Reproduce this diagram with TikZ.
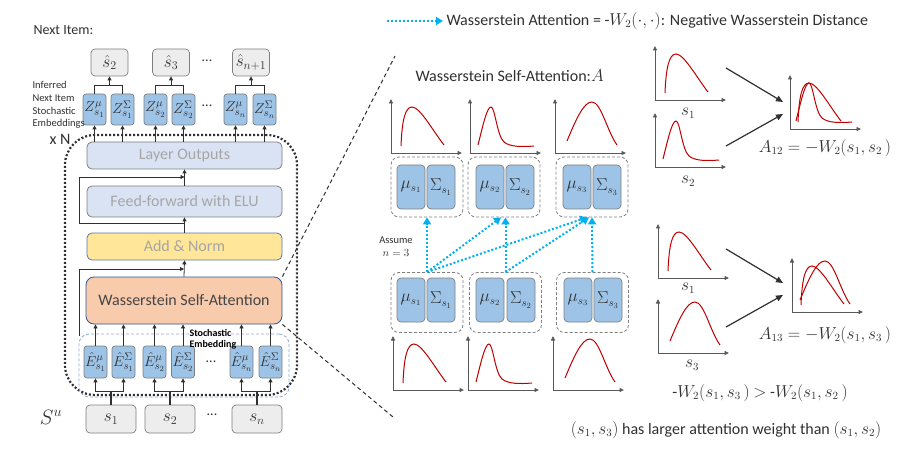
\documentclass[tikz,border=0pt]{standalone}
\usepackage{fontspec}
\setmainfont{Carlito}
\usetikzlibrary{arrows.meta}
\definecolor{txt}{HTML}{303030}
\definecolor{gtxt}{HTML}{A6A6A6}
\definecolor{lbox}{HTML}{DAE3F3}
\definecolor{ybox}{HTML}{FFE699}
\definecolor{obox}{HTML}{F8CBAD}
\definecolor{bbox}{HTML}{9DC3E6}
\definecolor{gbox}{HTML}{EDEDED}
\definecolor{bord}{HTML}{7F7F7F}
\definecolor{blueb}{HTML}{2F5597}
\definecolor{cyanA}{HTML}{00B0F0}
\definecolor{redc}{HTML}{C00000}
\definecolor{axc}{HTML}{595959}
\definecolor{sedash}{HTML}{8FAADC}
\tikzset{
 axl/.style={draw=axc,line width=0.9pt,{Triangle[length=4.5pt,width=4pt]}-{Triangle[length=4.5pt,width=4pt]}},
 curv/.style={draw=redc,line width=1pt},
 axpic/.pic={\draw[axl] (0,-54) -- (0,0) -- (71,0);},
 cA/.pic={\draw[curv] (10,-7) .. controls (11,-32) and (14,-46) .. (21,-46) .. controls (29,-46) and (42,-22) .. (53,-8);},
 cB/.pic={\draw[curv] (8,-8) .. controls (13,-28) and (17,-46) .. (21,-46) .. controls (25,-46) and (27,-17) .. (34,-11) .. controls (40,-6) and (52,-6) .. (64,-7);},
 cC/.pic={\draw[curv] (12,-12) .. controls (22,-36) and (29,-51) .. (37,-51) .. controls (46,-51) and (52,-22) .. (62,-8);},
}
\begin{document}
\begin{tikzpicture}[x=1pt,y=-1pt,
  every node/.style={text=txt},
  conn/.style={draw=txt,line width=0.8pt,-{Triangle[length=4pt,width=4pt]}},
  plain/.style={draw=txt,line width=0.8pt},
  layer/.style={draw=bord,line width=0.8pt,rounded corners=5pt,minimum width=195pt,inner sep=0pt,font=\fontsize{16}{19}\selectfont,text=gtxt},
  bsm/.style={draw=bord,fill=bbox,line width=0.7pt,rounded corners=3pt,minimum width=23pt,minimum height=31pt,inner sep=0pt,font=\fontsize{15.5}{17}\selectfont},
  bmid/.style={draw=bord,fill=bbox,line width=0.7pt,rounded corners=4pt,minimum width=28pt,minimum height=44pt,inner sep=0pt,font=\fontsize{16}{18}\selectfont},
  gsm/.style={draw=bord,fill=gbox,line width=0.7pt,rounded corners=4pt,inner sep=0pt},
  grp/.style={draw=bord,line width=0.8pt,dash pattern=on 3pt off 2pt,rounded corners=8pt,minimum width=72pt,minimum height=60pt,inner sep=0pt},
  cyanarr/.style={draw=cyanA,line width=2pt,dash pattern=on 2pt off 2pt,-{Triangle[length=7pt,width=8pt]}},
  blkarr/.style={draw=txt,line width=1.2pt,-{Triangle[length=7pt,width=6pt]}},
  zoomdash/.style={draw=txt,line width=1pt,dash pattern=on 4pt off 3pt},
  f16/.style={font=\fontsize{16}{19}\selectfont},
]
\useasboundingbox (0,0) rectangle (910,457);

% ---------------- left panel ----------------
\node[anchor=west,font=\fontsize{14}{17}\selectfont] (nextitem) at (30,30) {Next Item:};

% frames
\node[draw=txt,line width=2.2pt,dash pattern=on 2pt off 2pt,rounded corners=30pt,minimum width=232pt,minimum height=260pt,inner sep=0pt] (xNframe) at (181,265) {};
\node[draw=sedash,line width=0.8pt,dash pattern=on 3pt off 2pt,rounded corners=10pt,minimum width=210pt,minimum height=63pt,inner sep=0pt] (seframe) at (184,365.5) {};

% predicted items
\node[gsm,minimum width=37pt,minimum height=27pt,font=\fontsize{17}{20}\selectfont] (h2) at (109.5,62.5) {$\hat{s}_2$};
\node[gsm,minimum width=37pt,minimum height=27pt,font=\fontsize{17}{20}\selectfont] (h3) at (171,62.5) {$\hat{s}_3$};
\node[font=\fontsize{14}{16}\selectfont] (hd) at (207,61) {...};
\node[gsm,minimum width=37pt,minimum height=27pt,font=\fontsize{17}{20}\selectfont] (hn) at (251,62.5) {$\hat{s}_{n+1}$};

% Z boxes
\node[bsm] (Zm1) at (94.5,109.5) {$Z^{\mu}_{s_1}$};
\node[bsm] (Zs1) at (122.5,109.5) {$Z^{\Sigma}_{s_1}$};
\node[bsm] (Zm2) at (155.5,109.5) {$Z^{\mu}_{s_2}$};
\node[bsm] (Zs2) at (183.5,109.5) {$Z^{\Sigma}_{s_2}$};
\node[font=\fontsize{14}{16}\selectfont] (zd) at (207,106) {...};
\node[bsm] (Zmn) at (235.5,109.5) {$Z^{\mu}_{s_n}$};
\node[bsm] (Zsn) at (264.5,109.5) {$Z^{\Sigma}_{s_n}$};

\node[anchor=west,align=left,font=\fontsize{10.5}{12.7}\selectfont] (inflab) at (29,105) {Inferred\\Next Item\\Stochastic\\Embeddings};
\node[f16] (xN) at (60,139) {x N};

% layers
\node[layer,fill=lbox,minimum height=27pt] (LO) at (184.5,155.5) {Layer Outputs};
\node[layer,fill=lbox,minimum height=31pt] (FF) at (184.5,201.5) {Feed-forward with ELU};
\node[layer,fill=ybox,draw=blueb!80,minimum height=27pt] (AN) at (184.5,246.5) {Add \& Norm};
\node[layer,fill=obox,draw=blueb,rounded corners=8pt,minimum width=196pt,minimum height=47pt,text=txt!90] (WSA) at (184,300.5) {Wasserstein Self-Attention};

% E boxes
\node[bsm,minimum height=32pt] (Em1) at (95.5,362) {$\hat{E}^{\mu}_{s_1}$};
\node[bsm,minimum height=32pt] (Es1) at (123.5,362) {$\hat{E}^{\Sigma}_{s_1}$};
\node[bsm,minimum height=32pt] (Em2) at (154.5,362) {$\hat{E}^{\mu}_{s_2}$};
\node[bsm,minimum height=32pt] (Es2) at (183,362) {$\hat{E}^{\Sigma}_{s_2}$};
\node[font=\fontsize{14}{16}\selectfont] (ed) at (211,362) {...};
\node[bsm,minimum height=32pt] (Emn) at (241.5,362) {$\hat{E}^{\mu}_{s_n}$};
\node[bsm,minimum height=32pt] (Esn) at (270.5,362) {$\hat{E}^{\Sigma}_{s_n}$};
\node[anchor=west,align=left,font=\bfseries\fontsize{10}{11}\selectfont,text=black] (selab) at (186,339.5) {Stochastic\\Embedding};

% inputs
\node[gsm,minimum width=50pt,minimum height=28pt,font=\fontsize{17}{20}\selectfont] (s1) at (111,419) {$s_1$};
\node[gsm,minimum width=50pt,minimum height=28pt,font=\fontsize{17}{20}\selectfont] (s2) at (170,419) {$s_2$};
\node[font=\fontsize{14}{16}\selectfont] (sd) at (212,415) {...};
\node[gsm,minimum width=50pt,minimum height=28pt,font=\fontsize{17}{20}\selectfont] (sn) at (257,419) {$s_n$};
\node[font=\fontsize{20}{24}\selectfont] (Su) at (51,417) {$S^u$};

% connectors: Z -> s-hat
\coordinate (jy) at (0,85);
\foreach \a/\b/\h in {Zm1/Zs1/h2, Zm2/Zs2/h3, Zmn/Zsn/hn}{
  \draw[plain] (\a.north) -- (\a.north |- jy) -- (\b.north |- jy) -- (\b.north);
  \draw[conn] (\h.south |- jy) -- (\h.south);
}
% LO -> Z
\foreach \z in {Zm1,Zs1,Zm2,Zs2,Zmn,Zsn}{
  \draw[conn] (\z.south |- LO.north) -- (\z.south);
}
% layer stack
\draw[conn] (WSA.north) -- (AN.south);
\draw[conn] (AN.north) -- (FF.south);
\draw[conn] (FF.north) -- (LO.south);
\coordinate (k1) at (79,223); \coordinate (k2) at (79,177);
\draw[conn] (FF.south |- k1) -- (k1) -- (k2) -- (FF.north |- k2);
\coordinate (k3) at (79,336); \coordinate (k4) at (79,269);
\draw[conn] (k3) -- (k4) -- (WSA.north |- k4);
% E -> WSA
\foreach \e in {Em1,Es1,Em2,Es2,Emn,Esn}{
  \draw[conn] (\e.north) -- (\e.north |- WSA.south);
}
% s -> E
\coordinate (ey) at (0,391);
\foreach \s/\a/\b in {s1/Em1/Es1, s2/Em2/Es2, sn/Emn/Esn}{
  \draw[draw=txt,line width=1.5pt] (\s.north) -- (\s.north |- ey);
  \draw[conn] (\s.north |- ey) -| (\a.south);
  \draw[conn] (\s.north |- ey) -| (\b.south);
}
% zoom lines
\coordinate (zt) at (395,56);
\coordinate (zb) at (393,417);
\draw[zoomdash] (WSA.north east) -- (zt);
\draw[zoomdash] (WSA.south east) -- (zb);

% ---------------- right panel ----------------
\node[anchor=west,f16] (leg) at (443,21) {Wasserstein Attention = -$W_2(\cdot,\cdot)$: Negative Wasserstein Distance};
\coordinate (legs) at (387,21);
\draw[cyanarr] (legs) -- (leg.west);

\node[anchor=west,f16] (wsat) at (412,76) {Wasserstein Self-Attention:$A$};

% top plots
\pic at (391,153) {axpic}; \pic at (391,153) {cA};
\pic at (470,153) {axpic}; \pic at (470,153) {cB};
\pic at (555,153) {axpic}; \pic at (555,153) {cC};

% groups
\node[grp] (Gt1) at (427,187) {};
\node[grp] (Gt2) at (504,187) {};
\node[grp] (Gt3) at (592,187) {};
\node[grp] (Gb1) at (427,302.5) {};
\node[grp] (Gb2) at (505.5,302.5) {};
\node[grp] (Gb3) at (592.5,302.5) {};

\node[bmid] (tm1) at (411,187) {$\mu_{s_1}$};
\node[bmid] (ts1) at (441,187) {$\Sigma_{s_1}$};
\node[bmid] (tm2) at (490,187) {$\mu_{s_2}$};
\node[bmid] (ts2) at (520,187) {$\Sigma_{s_2}$};
\node[bmid] (tm3) at (577,187) {$\mu_{s_3}$};
\node[bmid] (ts3) at (607,187) {$\Sigma_{s_3}$};
\node[bmid] (bm1) at (411,300) {$\mu_{s_1}$};
\node[bmid] (bs1) at (441,300) {$\Sigma_{s_1}$};
\node[bmid] (bm2) at (490,300) {$\mu_{s_2}$};
\node[bmid] (bs2) at (521,300) {$\Sigma_{s_2}$};
\node[bmid] (bm3) at (578,300) {$\mu_{s_3}$};
\node[bmid] (bs3) at (608,300) {$\Sigma_{s_3}$};

% bottom plots
\pic at (393,390) {axpic}; \pic at (393,390) {cA};
\pic at (468,390) {axpic}; \pic at (468,390) {cB};
\pic at (553,390) {axpic}; \pic at (553,390) {cC};

% attention arrows
\draw[cyanarr] (Gb1.north) -- (Gt1.south);
\draw[cyanarr] (Gb1.north) -- ([xshift=-3pt]Gt2.south);
\draw[cyanarr] (Gb1.north) -- ([xshift=-5pt]Gt3.south);
\draw[cyanarr] (Gb2.north) -- (Gb2.north |- Gt2.south);
\draw[cyanarr] (Gb2.north) -- ([xshift=-3pt]Gt3.south);
\draw[cyanarr] (Gb3.north) -- (Gt3.south);
\node[align=center,font=\fontsize{10.5}{13}\selectfont] (asm) at (396,247) {Assume\\$n=3$};

% right-most: A12
\pic at (655,100) {axpic}; \pic at (655,100) {cA};
\node[font=\fontsize{16}{19}\selectfont] (l1) at (688,113) {$s_1$};
\pic at (655,167) {axpic}; \pic at (655,167) {cB};
\node[font=\fontsize{16}{19}\selectfont] (l2) at (688,181) {$s_2$};
\pic at (790,129) {axpic}; \pic at (788,129) {cA}; \pic at (788,129) {cB};
\coordinate (p1a) at (726,68); \coordinate (p1b) at (783,102);
\coordinate (p2a) at (726,146); \coordinate (p2b) at (783,114);
\draw[blkarr] (p1a) -- (p1b);
\draw[blkarr] (p2a) -- (p2b);
\node[f16] (A12) at (825,148) {$A_{12} = -W_2(s_1, s_2\,)$};

% right-most: A13
\pic at (658,278) {axpic}; \pic at (658,278) {cA};
\node[font=\fontsize{16}{19}\selectfont] (l3) at (688,288) {$s_1$};
\pic at (658,353) {axpic}; \pic at (658,353) {cC};
\node[font=\fontsize{16}{19}\selectfont] (l4) at (692,365) {$s_3$};
\pic at (792,312) {axpic}; \pic at (791,312) {cA}; \pic at (788,312) {cC};
\coordinate (p3a) at (726,249); \coordinate (p3b) at (783,283);
\coordinate (p4a) at (726,327); \coordinate (p4b) at (783,295);
\draw[blkarr] (p3a) -- (p3b);
\draw[blkarr] (p4a) -- (p4b);
\node[f16] (A13) at (825,335) {$A_{13} = -W_2(s_1, s_3\,)$};

\node[f16] (ineq) at (760,393) {-$W_2(s_1,s_3\,)$ $>$ -$W_2(s_1,s_2\,)$};
\node[f16] (concl) at (726,430) {$(s_1,s_3)$ has larger attention weight than $(s_1,s_2)$};
\end{tikzpicture}
\end{document}
